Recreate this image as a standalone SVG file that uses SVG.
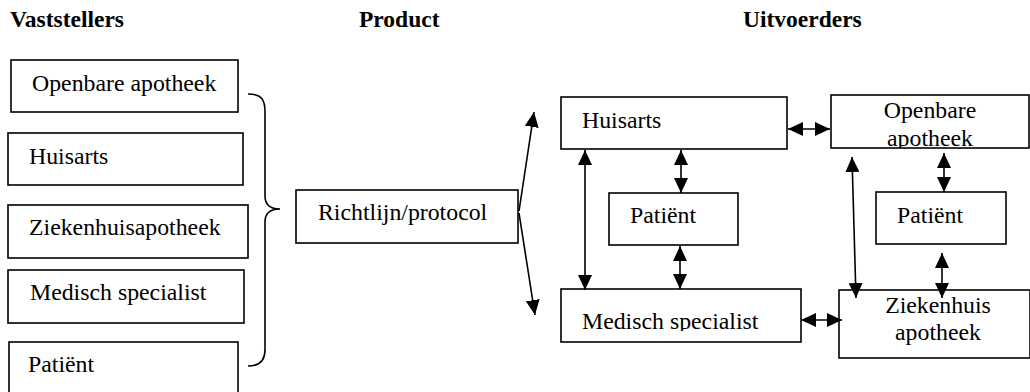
<svg xmlns="http://www.w3.org/2000/svg" width="1030" height="392" viewBox="0 0 1030 392">
<style>
  .box { fill: #fff; stroke: #000; stroke-width: 1.6; }
  .t { font-family: "Liberation Serif", "Times New Roman", serif; font-size: 23.8px; fill: #000; }
  .h { font-family: "Liberation Serif", "Times New Roman", serif; font-size: 23.5px; font-weight: bold; fill: #000; }
  .c { text-anchor: middle; }
  .ln { fill: none; stroke: #000; stroke-width: 1.6; }
  .ar { fill: none; stroke: #000; stroke-width: 1.6; marker-end: url(#ah); }
  .dar { fill: none; stroke: #000; stroke-width: 1.6; marker-start: url(#ah); marker-end: url(#ah); }
</style>
<defs>
  <marker id="ah" viewBox="0 0 15 14" markerWidth="15" markerHeight="14" refX="15" refY="7" orient="auto-start-reverse" markerUnits="userSpaceOnUse">
    <path d="M0,0 L15,7 L0,14 z" fill="#000"/>
  </marker>
  <clipPath id="clipMS"><rect x="561" y="289" width="240" height="42"/></clipPath>
  <clipPath id="clipOA"><rect x="831" y="95" width="198" height="53"/></clipPath>
</defs>
<rect width="1030" height="392" fill="#fff"/>

<text class="h" x="10" y="27">Vaststellers</text>
<text class="h" x="359" y="27">Product</text>
<text class="h" x="743" y="27">Uitvoerders</text>

<g id="v-openbare">
  <rect class="box" x="11" y="60" width="227" height="52"/>
  <text class="t" x="32" y="91">Openbare apotheek</text>
</g>
<g id="v-huisarts">
  <rect class="box" x="8" y="133" width="235" height="52"/>
  <text class="t" x="29" y="164">Huisarts</text>
</g>
<g id="v-ziekenhuis">
  <rect class="box" x="8" y="205" width="240" height="53"/>
  <text class="t" x="29" y="235">Ziekenhuisapotheek</text>
</g>
<g id="v-medisch">
  <rect class="box" x="8" y="270" width="236" height="53"/>
  <text class="t" x="30" y="300">Medisch specialist</text>
</g>
<g id="v-patient">
  <rect class="box" x="9" y="342" width="229" height="60"/>
  <text class="t" x="28" y="372">Patiënt</text>
</g>

<g id="brace">
  <path class="ln" d="M248,94 C262,94 265,100 265,112 L265,196 C265,204 270,209 280,209 C270,209 265,214 265,222 L265,350 C265,360 260,366 248,366"/>
</g>

<g id="product">
  <rect class="box" x="296" y="190" width="222" height="53"/>
  <text class="t" x="318" y="220">Richtlijn/protocol</text>
</g>

<g id="u-huisarts">
  <rect class="box" x="561" y="97" width="226" height="52"/>
  <text class="t" x="582" y="128">Huisarts</text>
</g>
<g id="u-patient1">
  <rect class="box" x="609" y="193" width="129" height="52"/>
  <text class="t" x="630" y="223">Patiënt</text>
</g>
<g id="u-medisch">
  <rect class="box" x="561" y="289" width="240" height="53"/>
  <text class="t" x="582" y="329" clip-path="url(#clipMS)">Medisch specialist</text>
</g>
<g id="u-openbare">
  <rect class="box" x="831" y="95" width="198" height="53"/>
  <g clip-path="url(#clipOA)">
    <text class="t c" x="930" y="118">Openbare</text>
    <text class="t c" x="930" y="146">apotheek</text>
  </g>
</g>
<g id="u-patient2">
  <rect class="box" x="876" y="192" width="130" height="52"/>
  <text class="t" x="897" y="223">Patiënt</text>
</g>
<g id="u-ziekenhuis">
  <rect class="box" x="839" y="290" width="191" height="68"/>
  <text class="t c" x="938" y="313">Ziekenhuis</text>
  <text class="t c" x="938" y="340">apotheek</text>
</g>

<g id="connectors">
  <line class="ar" x1="519" y1="211" x2="534" y2="112"/>
  <line class="ar" x1="519" y1="213" x2="535" y2="315"/>
  <line class="dar" x1="585" y1="150" x2="585" y2="290"/>
  <line class="dar" x1="681" y1="150" x2="681" y2="193"/>
  <line class="dar" x1="680" y1="246" x2="680" y2="289"/>
  <line class="dar" x1="788" y1="129" x2="830" y2="129"/>
  <line class="dar" x1="801" y1="320" x2="842" y2="320"/>
  <line class="dar" x1="852" y1="157" x2="856" y2="298"/>
  <line class="dar" x1="944" y1="153" x2="944" y2="192"/>
  <line class="dar" x1="942" y1="253" x2="942" y2="298"/>
</g>
</svg>
